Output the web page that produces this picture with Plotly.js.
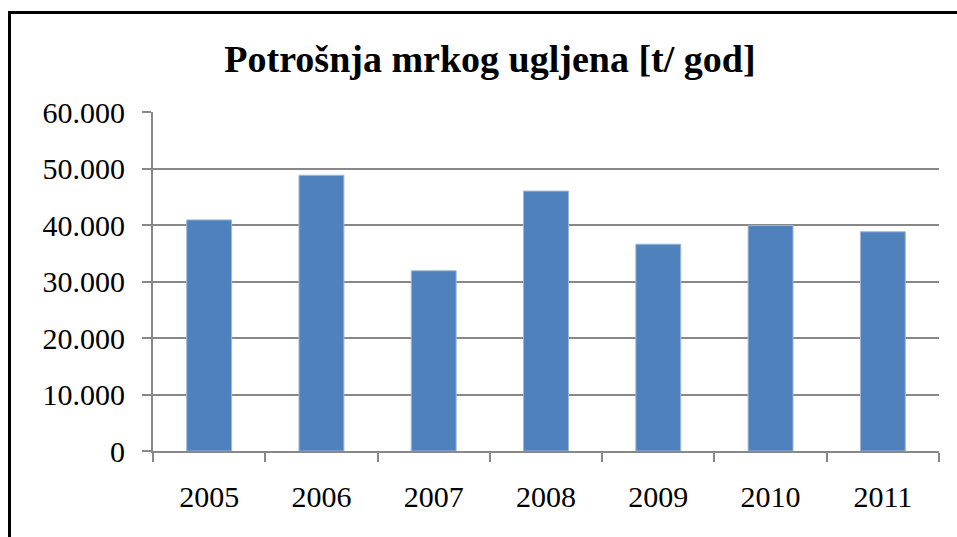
<!DOCTYPE html>
<html>
<head>
<meta charset="utf-8">
<script src="https://cdn.plot.ly/plotly-3.0.1.min.js"></script>
<style>
  html, body { margin: 0; padding: 0; background: #fff; }
  #wrap { position: relative; width: 957px; height: 537px; }
  #chart { width: 957px; height: 537px; }
  #frame { position: absolute; left: 8px; top: 11px; right: 0; bottom: -5px;
           border-top: 3px solid #000; border-left: 3px solid #000; pointer-events: none; }
</style>
</head>
<body>
<div id="wrap">
  <div id="chart"></div>
  <div id="frame"></div>
</div>
<script>
const titleText = 'Potrošnja mrkog ugljena [t/ god]';
const years = ['2005', '2006', '2007', '2008', '2009', '2010', '2011'];
const consumption = [40900, 48800, 31900, 46000, 36600, 39900, 38800];
const yTicks = [0, 10000, 20000, 30000, 40000, 50000, 60000];

const trace = {
  type: 'bar',
  x: years,
  y: consumption,
  marker: { color: '#4F81BD', line: { color: '#9DB7DB', width: 1 } },
  hoverinfo: 'x+y'
};

const layout = {
  width: 957,
  height: 537,
  paper_bgcolor: '#ffffff',
  plot_bgcolor: '#ffffff',
  separators: ',.',
  font: { family: 'Liberation Serif, Times New Roman, serif', color: '#000', size: 30 },
  margin: { l: 153, r: 18, t: 112, b: 86, pad: 0 },
  bargap: 0.6,
  showlegend: false,
  title: {
    text: '<b>' + titleText + '</b>',
    font: { family: 'Liberation Serif, Times New Roman, serif', size: 38, color: '#000' },
    x: 0.512, xanchor: 'center', xref: 'container',
    y: 0.89, yanchor: 'middle', yref: 'container'
  },
  xaxis: {
    type: 'category',
    tickson: 'boundaries',
    ticks: 'outside',
    ticklen: 9,
    tickwidth: 2,
    tickcolor: '#888888',
    showline: true,
    linecolor: '#888888',
    linewidth: 2,
    showgrid: false,
    zeroline: false,
    tickfont: { size: 30 },
    ticklabelstandoff: 18
  },
  yaxis: {
    range: [0, 60000],
    tickvals: yTicks,
    tickformat: ',d',
    ticks: 'outside',
    ticklen: 9,
    tickwidth: 2,
    tickcolor: '#888888',
    showline: true,
    linecolor: '#888888',
    linewidth: 2,
    showgrid: true,
    gridcolor: '#888888',
    gridwidth: 2,
    zeroline: false,
    tickfont: { size: 30 },
    ticklabelstandoff: 11
  }
};

Plotly.newPlot('chart', [trace], layout, { displayModeBar: false, staticPlot: true });
</script>
</body>
</html>
